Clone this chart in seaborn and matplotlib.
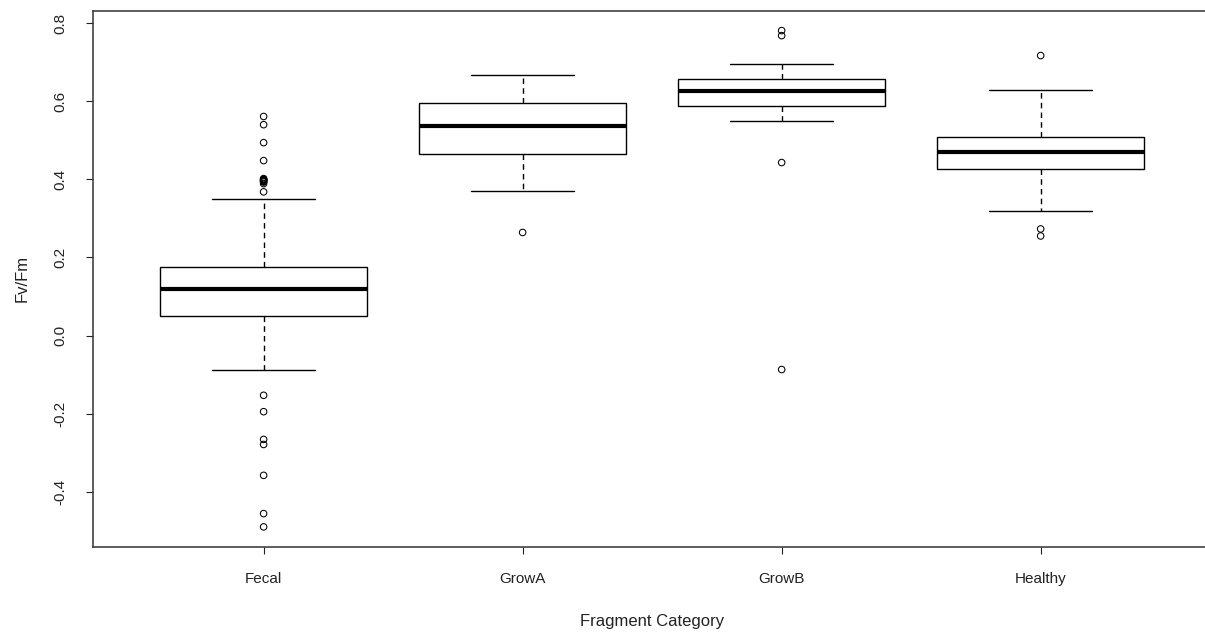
import numpy as np
import matplotlib
matplotlib.use("Agg")
import matplotlib.pyplot as plt
import seaborn as sns

# Fv/Fm summary per fragment category
categories = ["Fecal", "GrowA", "GrowB", "Healthy"]
whisker_low = [-0.088, 0.371, 0.550, 0.319]
quartile_1 = [0.050, 0.466, 0.587, 0.427]
medians = [0.119, 0.537, 0.626, 0.469]
quartile_3 = [0.176, 0.596, 0.657, 0.508]
whisker_high = [0.350, 0.668, 0.696, 0.629]

# individual points beyond the whiskers
outlier_category = (["Fecal"] * 20 + ["GrowA"] + ["GrowB"] * 4 + ["Healthy"] * 3)
outlier_value = [0.561, 0.540, 0.494, 0.448, 0.402, 0.399, 0.396, 0.393, 0.389, 0.368,
                 -0.153, -0.195, -0.266, -0.279, -0.358, -0.456, -0.490,
                 0.400, 0.397, 0.395,
                 0.264,
                 0.781, 0.768, 0.443, -0.087,
                 0.717, 0.273, 0.255]

sns.set_theme(style="ticks")
plt.rcParams["font.family"] = ["Liberation Sans", "DejaVu Sans"]
plt.rcParams["font.size"] = 12

fig = plt.figure(figsize=(12.05, 6.35), dpi=100)
ax = fig.add_axes([0.0769, 0.139, 1.0055 - 0.0769, 0.9831 - 0.139])

positions = np.arange(len(categories))
stats = []
for i, name in enumerate(categories):
    stats.append(dict(label=name, med=medians[i], q1=quartile_1[i], q3=quartile_3[i],
                      whislo=whisker_low[i], whishi=whisker_high[i], fliers=[]))

ax.bxp(stats, positions=positions, widths=0.8, showfliers=False, patch_artist=True,
       boxprops=dict(facecolor="white", edgecolor="black", linewidth=1.0),
       medianprops=dict(color="black", linewidth=3.0, solid_capstyle="butt"),
       whiskerprops=dict(color="black", linewidth=1.0, linestyle=(0, (4, 3))),
       capprops=dict(color="black", linewidth=1.0),
       capwidths=0.4)

cat_index = {c: i for i, c in enumerate(categories)}
out_x = [cat_index[c] for c in outlier_category]
sns.scatterplot(x=out_x, y=outlier_value, ax=ax, marker="o", s=22,
                facecolor="none", edgecolor="black", linewidth=0.75, zorder=3)

# R-style padded limits
all_vals = list(whisker_low) + list(whisker_high) + outlier_value
lo, hi = min(all_vals), max(all_vals)
pad = 0.04 * (hi - lo)
ax.set_ylim(lo - pad, hi + pad)
ax.set_xlim(-0.5 - 0.16, len(categories) - 0.5 + 0.16)

ax.set_xticks(positions)
ax.set_xticklabels(categories)
ax.set_yticks([-0.4, -0.2, 0.0, 0.2, 0.4, 0.6, 0.8])
ax.set_yticklabels(["-0.4", "-0.2", "0.0", "0.2", "0.4", "0.6", "0.8"],
                   rotation=90, va="center")

ax.tick_params(axis="both", direction="out", length=5, width=0.8, color="#222222",
               labelcolor="#222222", pad=13)
for side in ["left", "right", "top", "bottom"]:
    ax.spines[side].set_visible(True)
    ax.spines[side].set_color("#333333")
    ax.spines[side].set_linewidth(1.1)

ax.set_xlabel("Fragment Category", color="#222222", labelpad=20)
ax.set_ylabel("Fv/Fm", color="#222222", labelpad=17)
ax.grid(False)

fig.savefig("out.png", dpi=100, facecolor="white")
